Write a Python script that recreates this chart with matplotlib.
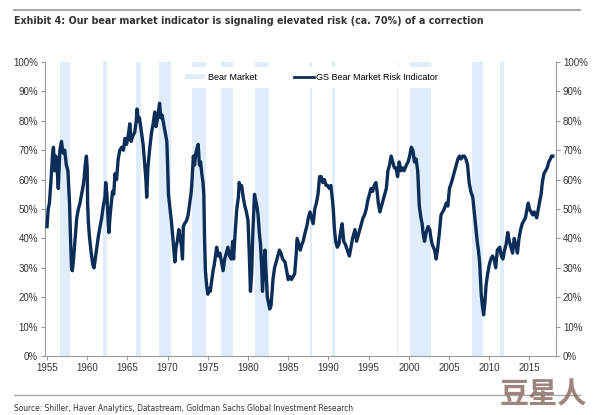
import numpy as np
import matplotlib.pyplot as plt
from matplotlib.patches import Patch
from matplotlib.lines import Line2D
from matplotlib.ticker import PercentFormatter

# GS Bear Market Risk Indicator (decimal year, % risk)
years = [
    1955.0, 1955.15, 1955.3, 1955.5, 1955.7, 1955.8, 1955.95, 1956.1, 1956.25, 1956.4,
    1956.6, 1956.8, 1957.0, 1957.2, 1957.4, 1957.6, 1957.8, 1957.95, 1958.05, 1958.15,
    1958.3, 1958.5, 1958.7, 1958.9, 1959.1, 1959.3, 1959.5, 1959.6, 1959.75, 1959.9,
    1960.0, 1960.05, 1960.15, 1960.3, 1960.5, 1960.7, 1960.85, 1961.0, 1961.2, 1961.4,
    1961.6, 1961.8, 1962.0, 1962.2, 1962.3, 1962.45, 1962.6, 1962.7, 1962.85, 1963.0,
    1963.15, 1963.3, 1963.45, 1963.65, 1963.85, 1964.05, 1964.3, 1964.5, 1964.7, 1964.9,
    1965.1, 1965.3, 1965.45, 1965.7, 1965.9, 1966.1, 1966.2, 1966.35, 1966.5, 1966.75,
    1966.95, 1967.1, 1967.3, 1967.4, 1967.55, 1967.75, 1968.0, 1968.2, 1968.4, 1968.55,
    1968.7, 1969.0, 1969.15, 1969.3, 1969.5, 1969.7, 1969.9, 1970.0, 1970.1, 1970.3,
    1970.5, 1970.75, 1970.9, 1971.05, 1971.2, 1971.4, 1971.55, 1971.7, 1971.85, 1971.95,
    1972.1, 1972.35, 1972.55, 1972.7, 1972.9, 1973.0, 1973.2, 1973.35, 1973.5, 1973.8,
    1973.95, 1974.1, 1974.25, 1974.4, 1974.5, 1974.6, 1974.7, 1974.85, 1975.0, 1975.15,
    1975.3, 1975.5, 1975.65, 1975.8, 1976.1, 1976.3, 1976.5, 1976.7, 1976.9, 1977.1,
    1977.3, 1977.5, 1977.7, 1977.9, 1978.1, 1978.2, 1978.4, 1978.6, 1978.8, 1978.9,
    1979.05, 1979.2, 1979.4, 1979.6, 1979.8, 1980.0, 1980.15, 1980.3, 1980.45, 1980.6,
    1980.8, 1980.95, 1981.1, 1981.25, 1981.4, 1981.55, 1981.7, 1981.8, 1981.95, 1982.1,
    1982.25, 1982.4, 1982.55, 1982.7, 1982.85, 1983.0, 1983.1, 1983.3, 1983.5, 1983.7,
    1983.9, 1984.1, 1984.3, 1984.6, 1984.8, 1985.0, 1985.2, 1985.4, 1985.6, 1985.8,
    1986.0, 1986.1, 1986.3, 1986.5, 1986.7, 1986.85, 1987.1, 1987.3, 1987.5, 1987.7,
    1987.9, 1988.1, 1988.3, 1988.5, 1988.7, 1988.9, 1989.1, 1989.3, 1989.5, 1989.7,
    1989.9, 1990.1, 1990.3, 1990.5, 1990.6, 1990.75, 1990.9, 1991.1, 1991.3, 1991.5,
    1991.7, 1991.9, 1992.1, 1992.35, 1992.6, 1992.8, 1993.0, 1993.3, 1993.5, 1993.7,
    1993.9, 1994.1, 1994.3, 1994.5, 1994.7, 1994.9, 1995.1, 1995.3, 1995.5, 1995.7,
    1995.9, 1996.05, 1996.2, 1996.4, 1996.6, 1996.8, 1997.0, 1997.2, 1997.4, 1997.6,
    1997.8, 1998.0, 1998.2, 1998.4, 1998.6, 1998.8, 1999.0, 1999.2, 1999.4, 1999.7,
    1999.9, 2000.1, 2000.3, 2000.5, 2000.7, 2000.9, 2001.1, 2001.2, 2001.3, 2001.5,
    2001.65, 2001.8, 2001.95, 2002.15, 2002.4, 2002.6, 2002.75, 2002.9, 2003.05, 2003.2,
    2003.4, 2003.6, 2003.8, 2004.0, 2004.2, 2004.4, 2004.65, 2004.85, 2005.05, 2005.3,
    2005.5, 2005.7, 2005.9, 2006.1, 2006.3, 2006.5, 2006.7, 2006.9, 2007.1, 2007.3,
    2007.5, 2007.7, 2007.95, 2008.1, 2008.3, 2008.5, 2008.65, 2008.8, 2009.0, 2009.15,
    2009.3, 2009.45, 2009.6, 2009.8, 2010.0, 2010.2, 2010.4, 2010.6, 2010.8, 2011.0,
    2011.3, 2011.5, 2011.7, 2011.9, 2012.1, 2012.3, 2012.5, 2012.7, 2012.9, 2013.1,
    2013.3, 2013.5, 2013.7, 2013.9, 2014.1, 2014.3, 2014.5, 2014.7, 2014.85, 2015.0,
    2015.2, 2015.4, 2015.6, 2015.9, 2016.1, 2016.3, 2016.45, 2016.6, 2016.8, 2017.0,
    2017.2, 2017.4, 2017.6, 2017.75, 2017.9,
]
risk = [
    44, 50, 52, 60, 69, 71, 63, 68, 64, 57,
    70, 73, 69, 70, 65, 63, 52, 38, 30, 29,
    33, 40, 47, 50, 52, 55, 58, 60, 65, 68,
    64, 52, 45, 40, 35, 31, 30, 33, 37, 41,
    44, 47, 51, 54, 59, 55, 46, 42, 48, 52,
    56, 55, 62, 60, 67, 70, 71, 70, 74, 72,
    75, 79, 73, 75, 76, 80, 84, 80, 81, 76,
    72, 67, 60, 54, 64, 70, 76, 79, 83, 78,
    80, 86, 81, 82, 79, 76, 73, 65, 55, 50,
    45, 37, 32, 37, 39, 43, 40, 38, 33, 44,
    45, 46, 48, 51, 55, 58, 68, 65, 69, 72,
    65, 66, 62, 59, 55, 39, 29, 24, 21, 23,
    22, 26, 29, 31, 37, 34, 35, 32, 29, 33,
    35, 37, 34, 33, 39, 33, 42, 50, 54, 59,
    57, 58, 54, 51, 49, 46, 35, 22, 28, 42,
    55, 53, 51, 48, 42, 38, 30, 22, 30, 36,
    28, 20, 18, 16, 17, 22, 26, 30, 32, 34,
    36, 35, 33, 32, 29, 26, 27, 26, 27, 28,
    35, 40, 38, 36, 38, 39, 42, 44, 47, 49,
    47, 45, 50, 52, 55, 61, 61, 59, 60, 58,
    58, 57, 58, 53, 50, 43, 39, 37, 38, 42,
    45, 39, 38, 36, 34, 37, 40, 43, 39, 41,
    43, 45, 47, 48, 50, 53, 55, 57, 56, 58,
    59, 56, 52, 49, 51, 53, 55, 57, 63, 65,
    68, 66, 64, 64, 61, 66, 63, 64, 63, 65,
    66, 68, 71, 70, 66, 67, 63, 57, 51, 47,
    45, 41, 39, 42, 44, 43, 40, 38, 37, 36,
    33, 37, 42, 48, 49, 50, 52, 51, 57, 59,
    61, 63, 65, 67, 68, 67, 68, 68, 67, 65,
    59, 56, 54, 50, 45, 39, 36, 32, 21, 17,
    14, 18, 24, 28, 31, 33, 34, 33, 30, 36,
    37, 34, 33, 36, 38, 42, 39, 37, 35, 40,
    38, 35, 40, 43, 45, 46, 47, 50, 52, 50,
    49, 48, 49, 47, 50, 53, 55, 59, 62, 63,
    64, 66, 67, 68, 68,
]

# Bear market periods (start, end)
bear_start = [1956.6, 1961.95, 1966.1, 1968.9, 1973.0, 1976.7, 1980.85,
              1987.65, 1990.5, 1998.5, 2000.2, 2007.8, 2011.3]
bear_end = [1957.8, 1962.45, 1966.75, 1970.4, 1974.75, 1978.15, 1982.6,
            1987.95, 1990.8, 1998.7, 2002.75, 2009.2, 2011.8]

plt.rcParams['font.family'] = ['Liberation Sans', 'DejaVu Sans']

fig = plt.figure(figsize=(5.94, 4.15), dpi=100)
ax = fig.add_axes([45/594, 1 - 356/415, (556 - 45)/594, (356 - 62)/415])

band_color = '#deedf9'
line_color = '#0c2d58'
for s, e in zip(bear_start, bear_end):
    ax.axvspan(s, e, color=band_color, lw=0, zorder=0)

ax.plot(years, risk, color=line_color, lw=2.4, zorder=3)

ax.set_xlim(1954.75, 2018.3)
ax.set_ylim(0, 100)
ax.set_xticks(np.arange(1955, 2016, 5))
ax.set_yticks(np.arange(0, 101, 10))
ax.yaxis.set_major_formatter(PercentFormatter(decimals=0))
ax.tick_params(axis='both', labelsize=7, colors='#999999', labelcolor='#333333',
               length=3, width=0.8, pad=2)
ax.tick_params(axis='y', right=True, labelright=True)
ax.spines['top'].set_visible(False)
for side in ['left', 'right', 'bottom']:
    ax.spines[side].set_color('#999999')
    ax.spines[side].set_linewidth(0.8)

handles = [Patch(facecolor=band_color, edgecolor='none'),
           Line2D([0], [0], color=line_color, lw=2.0)]
leg = ax.legend(handles, ['Bear Market', 'GS Bear Market Risk Indicator'],
                loc='upper center', bbox_to_anchor=(0.522, 1.0), ncol=2,
                fontsize=6.5, frameon=True, framealpha=1, edgecolor='none',
                handlelength=2.2, handleheight=0.5, columnspacing=4.1,
                borderpad=0.7, handletextpad=0.3)
leg.get_frame().set_facecolor('white')
leg.set_zorder(5)

# title, rules, source
fig.add_artist(Line2D([14/594, 580/594], [1 - 10/415, 1 - 10/415],
                      color='#aaaaaa', lw=1.5))
fig.text(14/594, 1 - 21/415, 'Exhibit 4: Our bear market indicator is signaling elevated risk (ca. 70%) of a correction',
         family='DejaVu Sans', fontstretch='condensed', fontsize=7.7, fontweight='bold',
         color='#333333', va='center')
fig.add_artist(Line2D([14/594, 580/594], [1 - 395/415, 1 - 395/415],
                      color='#aaaaaa', lw=1.0))
fig.text(14/594, 1 - 408/415, 'Source: Shiller, Haver Analytics, Datastream, Goldman Sachs Global Investment Research',
         family='DejaVu Sans', fontstretch='condensed', fontsize=6.0, color='#333333', va='center')
fig.text(587/594, 1 - 394/415, '豆星人', family=['Noto Sans CJK SC', 'DejaVu Sans'],
         fontsize=21, fontweight='bold', color='#8c6e66', alpha=0.85, ha='right', va='center')

fig.savefig('out.png', dpi=100)
